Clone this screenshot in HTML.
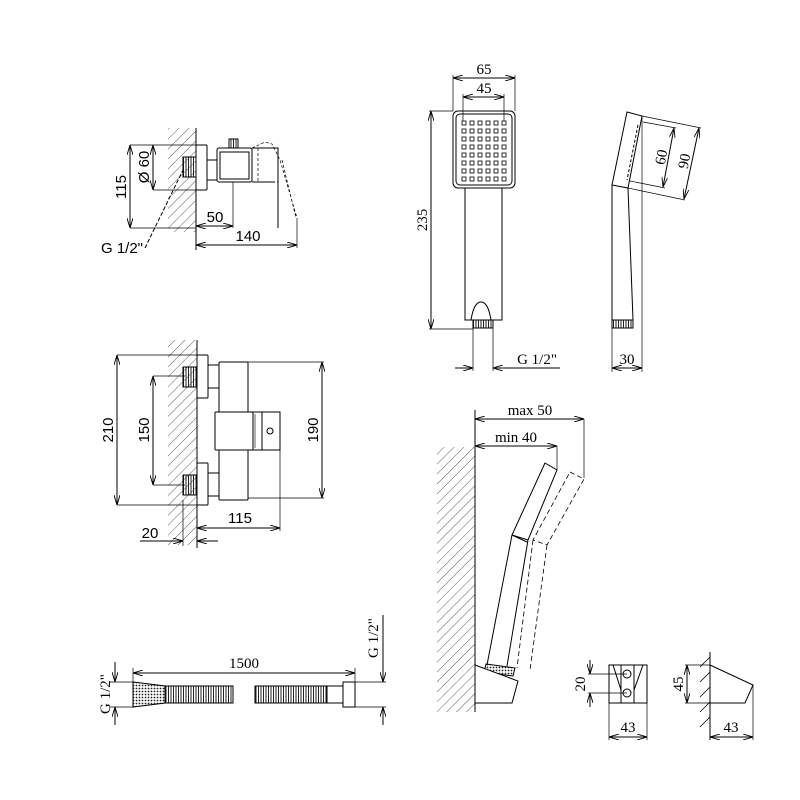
<!DOCTYPE html>
<html><head><meta charset="utf-8"><style>
html,body{margin:0;padding:0;background:#fff}
svg{display:block}
.s{font-family:"Liberation Sans",sans-serif;font-size:15px}
.r{font-family:"Liberation Serif",serif;font-size:15px}
</style></head><body>
<svg width="800" height="800" viewBox="0 0 800 800" xmlns="http://www.w3.org/2000/svg">
<defs>
<pattern id="h" width="7" height="7" patternUnits="userSpaceOnUse" patternTransform="rotate(45)">
<line x1="0" y1="0" x2="0" y2="7" stroke="#333" stroke-width="0.8"/></pattern>
<pattern id="th" width="2.5" height="4" patternUnits="userSpaceOnUse">
<line x1="1" y1="0" x2="1" y2="4" stroke="#222" stroke-width="1"/></pattern>
<pattern id="dt" width="3" height="3" patternUnits="userSpaceOnUse">
<circle cx="1.5" cy="1.5" r="0.9" fill="#222"/></pattern>
<marker id="a" markerWidth="10" markerHeight="6" refX="10" refY="3" orient="auto-start-reverse" markerUnits="userSpaceOnUse">
<path d="M0,0 L10,3 L0,6" fill="none" stroke="#000" stroke-width="0.9"/></marker>
</defs>
<g fill="none" stroke="#000" stroke-width="1">

<!-- TOP LEFT -->
<rect x="168" y="128" width="28" height="104" fill="url(#h)" stroke="none"/>
<line x1="196" y1="128" x2="196" y2="250"/>
<rect x="183" y="157" width="13" height="20" fill="url(#th)"/>
<rect x="196" y="145" width="11" height="45" rx="1"/>
<rect x="207" y="160" width="10" height="20"/>
<rect x="217" y="148" width="35" height="34" rx="2"/>
<rect x="220" y="152" width="29" height="27"/>
<rect x="229" y="139" width="9" height="9" fill="url(#th)"/>
<path d="M252,148 L278,148 L278,228 M252,182 L278,182 M258,148 L258,182 M252,148 L265,142 L272,144 L280,160 L297,218 M282,160 L296,218" stroke-dasharray="3,2" stroke-width="0.7"/>
<path d="M252,148 L278,148 L278,228 M252,182 L275,182"/>
<line x1="130" y1="145" x2="207" y2="145" stroke-width="0.7"/>
<line x1="130" y1="228" x2="196" y2="228" stroke-width="0.7"/>
<line x1="130" y1="145" x2="130" y2="228" marker-start="url(#a)" marker-end="url(#a)"/>
<line x1="153" y1="190" x2="196" y2="190" stroke-width="0.7"/>
<line x1="153" y1="145" x2="153" y2="190" marker-start="url(#a)" marker-end="url(#a)"/>
<line x1="233" y1="182" x2="233" y2="228" stroke-width="0.7"/>
<line x1="196" y1="226" x2="233" y2="226" marker-start="url(#a)" marker-end="url(#a)"/>
<line x1="297" y1="218" x2="297" y2="248" stroke-width="0.7"/>
<line x1="196" y1="245" x2="297" y2="245" marker-start="url(#a)" marker-end="url(#a)"/>
<path d="M145,248 L183,170" stroke-dasharray="4,2"/>

<!-- MIDDLE LEFT -->
<rect x="168" y="340" width="29" height="205" fill="url(#h)" stroke="none"/>
<line x1="197" y1="340" x2="197" y2="548"/>
<rect x="183" y="367" width="14" height="20" fill="url(#th)"/>
<rect x="183" y="475" width="14" height="20" fill="url(#th)"/>
<rect x="197" y="355" width="11" height="43" rx="1"/>
<rect x="197" y="463" width="11" height="42" rx="1"/>
<rect x="208" y="365" width="11" height="23"/>
<rect x="208" y="473" width="11" height="23"/>
<rect x="219" y="362" width="29" height="138" rx="1"/>
<rect x="215" y="412" width="38" height="38" fill="#fff" rx="1"/>
<rect x="253" y="412" width="27" height="38"/>
<line x1="262" y1="412" x2="262" y2="450"/>
<line x1="255" y1="414" x2="255" y2="448" stroke-width="0.6"/>
<circle cx="270" cy="431" r="3"/>
<line x1="117" y1="355" x2="197" y2="355" stroke-width="0.7"/>
<line x1="117" y1="505" x2="197" y2="505" stroke-width="0.7"/>
<line x1="117" y1="355" x2="117" y2="505" marker-start="url(#a)" marker-end="url(#a)"/>
<line x1="153" y1="376" x2="185" y2="376" stroke-width="0.7"/>
<line x1="153" y1="485" x2="185" y2="485" stroke-width="0.7"/>
<line x1="153" y1="376" x2="153" y2="485" marker-start="url(#a)" marker-end="url(#a)"/>
<line x1="248" y1="362" x2="324" y2="362" stroke-width="0.7"/>
<line x1="248" y1="498" x2="324" y2="498" stroke-width="0.7"/>
<line x1="322" y1="362" x2="322" y2="498" marker-start="url(#a)" marker-end="url(#a)"/>
<line x1="280" y1="450" x2="280" y2="531" stroke-width="0.7"/>
<line x1="197" y1="528" x2="280" y2="528" marker-start="url(#a)" marker-end="url(#a)"/>
<line x1="183" y1="500" x2="183" y2="546" stroke-width="0.7"/>
<line x1="140" y1="541" x2="183" y2="541" marker-end="url(#a)"/>
<line x1="218" y1="541" x2="197" y2="541" marker-end="url(#a)"/>

<!-- HOSE -->
<line x1="110" y1="682" x2="133" y2="682" stroke-width="0.7"/>
<line x1="110" y1="707" x2="133" y2="707" stroke-width="0.7"/>
<line x1="115" y1="662" x2="115" y2="682" marker-end="url(#a)"/>
<line x1="115" y1="725" x2="115" y2="707" marker-end="url(#a)"/>
<path d="M133,682 L165,686 L165,703 L133,707 Z" fill="url(#dt)"/>
<rect x="165" y="686" width="68" height="17" fill="url(#th)"/>
<rect x="255" y="686" width="72" height="17" fill="url(#th)"/>
<rect x="327" y="686" width="16" height="17"/>
<rect x="343" y="682" width="12" height="25"/>
<line x1="133" y1="668" x2="133" y2="682" stroke-width="0.7"/>
<line x1="355" y1="668" x2="355" y2="682" stroke-width="0.7"/>
<line x1="133" y1="673" x2="355" y2="673" marker-start="url(#a)" marker-end="url(#a)"/>
<line x1="355" y1="682" x2="386" y2="682" stroke-width="0.7"/>
<line x1="355" y1="707" x2="386" y2="707" stroke-width="0.7"/>
<line x1="383" y1="615" x2="383" y2="682" marker-end="url(#a)"/>
<line x1="383" y1="725" x2="383" y2="707" marker-end="url(#a)"/>

<!-- HAND SHOWER FRONT -->
<rect x="453" y="111" width="62" height="77" rx="5"/>
<rect x="456" y="114" width="56" height="71" rx="4"/>
<g fill="#fff" stroke-width="0.8">
<g id="row">
<rect x="462" y="121" width="4" height="4"/><rect x="470" y="121" width="4" height="4"/><rect x="478" y="121" width="4" height="4"/><rect x="486" y="121" width="4" height="4"/><rect x="494" y="121" width="4" height="4"/><rect x="502" y="121" width="4" height="4"/>
</g>
<use href="#row" y="8"/><use href="#row" y="16"/><use href="#row" y="24"/><use href="#row" y="32"/><use href="#row" y="40"/><use href="#row" y="48"/><use href="#row" y="56"/>
</g>
<path d="M465,188 L465,320 L502,320 L502,188"/>
<path d="M471,320 C473,308 476,302 481,302 C486,302 489,308 491,320"/>
<rect x="473" y="320" width="20" height="8" fill="url(#th)"/>
<line x1="453" y1="75" x2="453" y2="111" stroke-width="0.7"/>
<line x1="515" y1="75" x2="515" y2="111" stroke-width="0.7"/>
<line x1="453" y1="78" x2="515" y2="78" marker-start="url(#a)" marker-end="url(#a)"/>
<line x1="463" y1="94" x2="463" y2="121" stroke-width="0.7"/>
<line x1="504" y1="94" x2="504" y2="121" stroke-width="0.7"/>
<line x1="463" y1="97" x2="504" y2="97" marker-start="url(#a)" marker-end="url(#a)"/>
<line x1="429" y1="111" x2="453" y2="111" stroke-width="0.7"/>
<line x1="429" y1="329" x2="473" y2="329" stroke-width="0.7"/>
<line x1="431" y1="111" x2="431" y2="329" marker-start="url(#a)" marker-end="url(#a)"/>
<line x1="473" y1="328" x2="473" y2="371" stroke-width="0.7"/>
<line x1="493" y1="328" x2="493" y2="371" stroke-width="0.7"/>
<line x1="455" y1="368" x2="473" y2="368" marker-end="url(#a)"/>
<line x1="560" y1="368" x2="493" y2="368" marker-end="url(#a)"/>

<!-- HAND SHOWER SIDE -->
<path d="M627,112 L642,116 L628,188 L612,185 Z"/>
<path d="M638,125 L627,180" stroke-dasharray="3,2"/>
<path d="M612,185 L612,320 L633,320 L628,188"/>
<rect x="612" y="320" width="21" height="8" fill="url(#th)"/>
<line x1="642" y1="116" x2="642" y2="372" stroke-width="0.7"/>
<line x1="612" y1="328" x2="612" y2="372" stroke-width="0.7"/>
<line x1="612" y1="368" x2="642" y2="368" marker-start="url(#a)" marker-end="url(#a)"/>
<line x1="642" y1="116" x2="701" y2="128" stroke-width="0.7"/>
<line x1="628" y1="188" x2="685" y2="200" stroke-width="0.7"/>
<line x1="699" y1="128" x2="684" y2="199" marker-start="url(#a)" marker-end="url(#a)"/>
<line x1="643" y1="122" x2="676" y2="128" stroke-width="0.7"/>
<line x1="630" y1="181" x2="665" y2="188" stroke-width="0.7"/>
<line x1="674" y1="128" x2="663" y2="187" marker-start="url(#a)" marker-end="url(#a)"/>

<!-- WALL MOUNTED -->
<rect x="437" y="447" width="38" height="265" fill="url(#h)" stroke="none"/>
<line x1="475" y1="410" x2="475" y2="712"/>
<line x1="475" y1="419" x2="584" y2="419" marker-start="url(#a)" marker-end="url(#a)"/>
<line x1="475" y1="446" x2="557" y2="446" marker-start="url(#a)" marker-end="url(#a)"/>
<line x1="557" y1="446" x2="557" y2="470" stroke-width="0.7"/>
<line x1="584" y1="419" x2="584" y2="478" stroke-width="0.7"/>
<path d="M570,472 L584,479 L547,545 L533,540 Z M533,540 L517,668 M547,545 L530,670" stroke-dasharray="5,3" stroke-width="0.8"/>
<path d="M545,463 L557,470 L528,540 L512,535 Z M512,535 L487,665 M528,540 L507,666 M512,535 L527,542"/>
<path d="M486,664 L515,668 L513,676 L484,672 Z" fill="url(#dt)"/>
<path d="M475,665 L518,681 L512,703 L475,703 Z" fill="#fff"/>

<!-- BRACKET FRONT -->
<rect x="609" y="665" width="38" height="38"/>
<path d="M613,665 L621,690 L621,703 M643,665 L634,690 L634,703 M621,665 L621,703 M634,665 L634,703"/>
<circle cx="627" cy="674" r="4"/>
<circle cx="627" cy="693" r="4"/>
<line x1="588" y1="674" x2="627" y2="674" stroke-width="0.7"/>
<line x1="588" y1="693" x2="627" y2="693" stroke-width="0.7"/>
<line x1="590" y1="660" x2="590" y2="674" marker-end="url(#a)"/>
<line x1="590" y1="707" x2="590" y2="693" marker-end="url(#a)"/>
<line x1="609" y1="703" x2="609" y2="740" stroke-width="0.7"/>
<line x1="647" y1="703" x2="647" y2="740" stroke-width="0.7"/>
<line x1="609" y1="737" x2="647" y2="737" marker-start="url(#a)" marker-end="url(#a)"/>

<!-- BRACKET SIDE -->
<line x1="710" y1="652" x2="710" y2="740"/>
<path d="M700,667 L710,657 M700,682 L710,672 M700,697 L710,687 M700,712 L710,702 M700,727 L710,717" stroke-width="0.8"/>
<path d="M710,665 L753,685 L745,703 L710,703"/>
<line x1="685" y1="665" x2="710" y2="665" stroke-width="0.7"/>
<line x1="685" y1="703" x2="710" y2="703" stroke-width="0.7"/>
<line x1="687" y1="665" x2="687" y2="703" marker-start="url(#a)" marker-end="url(#a)"/>
<line x1="753" y1="685" x2="753" y2="740" stroke-width="0.7"/>
<line x1="710" y1="737" x2="753" y2="737" marker-start="url(#a)" marker-end="url(#a)"/>
</g>

<g fill="#000">
<text class="s" x="0" y="0" transform="translate(126,187) rotate(-90)" text-anchor="middle">115</text>
<text class="s" x="0" y="0" transform="translate(149,167) rotate(-90)" text-anchor="middle">Ø 60</text>
<text class="s" x="215" y="222" text-anchor="middle">50</text>
<text class="s" x="248" y="241" text-anchor="middle">140</text>
<text class="s" x="122" y="253" text-anchor="middle">G 1/2"</text>
<text class="s" x="0" y="0" transform="translate(113,430) rotate(-90)" text-anchor="middle">210</text>
<text class="s" x="0" y="0" transform="translate(149,430) rotate(-90)" text-anchor="middle">150</text>
<text class="s" x="0" y="0" transform="translate(318,430) rotate(-90)" text-anchor="middle">190</text>
<text class="s" x="240" y="523" text-anchor="middle">115</text>
<text class="s" x="150" y="538" text-anchor="middle">20</text>
<text class="r" x="484" y="74" text-anchor="middle">65</text>
<text class="r" x="484" y="93" text-anchor="middle">45</text>
<text class="r" x="0" y="0" transform="translate(427,220) rotate(-90)" text-anchor="middle">235</text>
<text class="r" x="537" y="364" text-anchor="middle">G 1/2"</text>
<text class="r" x="627" y="364" text-anchor="middle">30</text>
<text class="r" x="0" y="0" transform="translate(666,158) rotate(-79)" text-anchor="middle">60</text>
<text class="r" x="0" y="0" transform="translate(689,162) rotate(-79)" text-anchor="middle">90</text>
<text class="r" x="530" y="415" text-anchor="middle">max 50</text>
<text class="r" x="516" y="442" text-anchor="middle">min 40</text>
<text class="r" x="0" y="0" transform="translate(110,694) rotate(-90)" text-anchor="middle">G 1/2"</text>
<text class="r" x="244" y="668" text-anchor="middle">1500</text>
<text class="r" x="0" y="0" transform="translate(378,638) rotate(-90)" text-anchor="middle">G 1/2"</text>
<text class="r" x="0" y="0" transform="translate(585,684) rotate(-90)" text-anchor="middle">20</text>
<text class="r" x="628" y="732" text-anchor="middle">43</text>
<text class="r" x="0" y="0" transform="translate(683,684) rotate(-90)" text-anchor="middle">45</text>
<text class="r" x="731" y="732" text-anchor="middle">43</text>
</g>
</svg>
</body></html>
